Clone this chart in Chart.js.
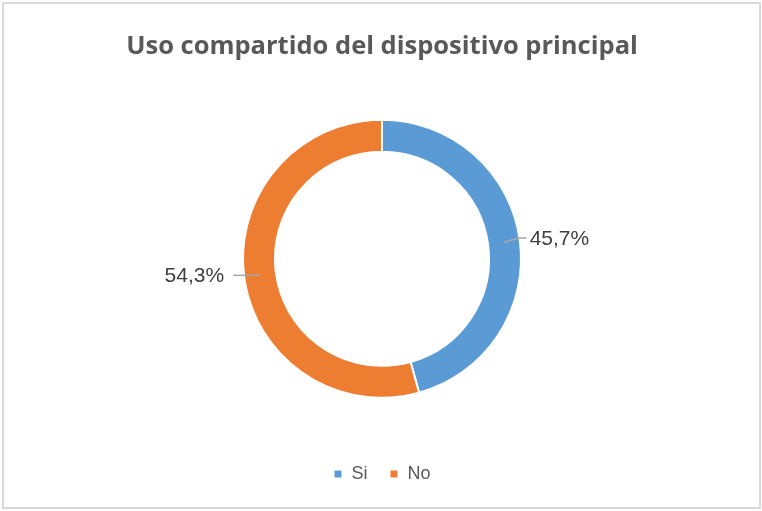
<!DOCTYPE html>
<html>
<head>
<meta charset="utf-8">
<script src="https://cdn.jsdelivr.net/npm/chart.js@4/dist/chart.umd.min.js"></script>
<style>
  body { margin: 0; background: #fff; }
  #wrap { position: relative; width: 762px; height: 511px; }
  #frame { position: absolute; left: 2px; top: 2px; width: 755px; height: 503px;
           border: 2px solid #d9d9d9; pointer-events: none; }
</style>
</head>
<body>
<div id="wrap">
  <canvas id="chart" width="762" height="511"></canvas>
  <div id="frame"></div>
</div>
<script>
const categories = ['Si', 'No'];
const values = [45.7, 54.3];
const colors = ['#5B9BD5', '#ED7D31'];
const title = 'Uso compartido del dispositivo principal';

const fontFamily = "'Liberation Sans', Arial, sans-serif";

// etiquetas de porcentaje con linea guia, estilo Excel
const pctLabels = {
  id: 'pctLabels',
  afterDatasetsDraw(chart) {
    const ctx = chart.ctx;
    const arcs = chart.getDatasetMeta(0).data;
    ctx.save();
    ctx.font = '21px ' + fontFamily;
    ctx.textBaseline = 'middle';
    arcs.forEach((arc, i) => {
      const mid = (arc.startAngle + arc.endAngle) / 2;
      const rMid = (arc.innerRadius + arc.outerRadius) / 2;
      const sx = arc.x + Math.cos(mid) * rMid;
      const sy = arc.y + Math.sin(mid) * rMid;
      const ax = arc.x + Math.cos(mid) * (arc.outerRadius + 8);
      const ay = arc.y + Math.sin(mid) * (arc.outerRadius + 8) - 1;
      const right = Math.cos(mid) >= 0;
      ctx.strokeStyle = '#a6a6a6';
      ctx.lineWidth = 1.5;
      ctx.beginPath();
      ctx.moveTo(sx, sy);
      if (right) {
        ctx.lineTo(ax - 8, ay);
        ctx.lineTo(ax - 1, ay);
      } else {
        ctx.lineTo(sx - 27, sy);
      }
      ctx.stroke();
      ctx.fillStyle = '#404040';
      ctx.textAlign = right ? 'left' : 'right';
      const txt = values[i].toFixed(1).replace('.', ',') + '%';
      if (right) ctx.fillText(txt, ax + 2, ay + 1);
      else ctx.fillText(txt, sx - 36, sy + 1);
    });
    ctx.restore();
  }
};

new Chart(document.getElementById('chart'), {
  type: 'doughnut',
  data: {
    labels: categories,
    datasets: [{
      data: values,
      backgroundColor: colors,
      borderColor: '#ffffff',
      borderWidth: 2,
      radius: 139
    }]
  },
  options: {
    responsive: false,
    animation: false,
    cutout: '77%',
    layout: { padding: { left: 2, right: 0, top: 0, bottom: 18 } },
    plugins: {
      title: {
        display: true,
        text: title,
        color: '#595959',
        font: { family: "'Open Sans', sans-serif", size: 25.5, weight: 'bold' },
        padding: { top: 31, bottom: 13 }
      },
      legend: {
        position: 'bottom',
        labels: {
          color: '#595959',
          font: { family: fontFamily, size: 18 },
          boxWidth: 9,
          boxHeight: 9,
          padding: 22
        }
      },
      tooltip: { enabled: false }
    }
  },
  plugins: [pctLabels]
});
</script>
</body>
</html>
